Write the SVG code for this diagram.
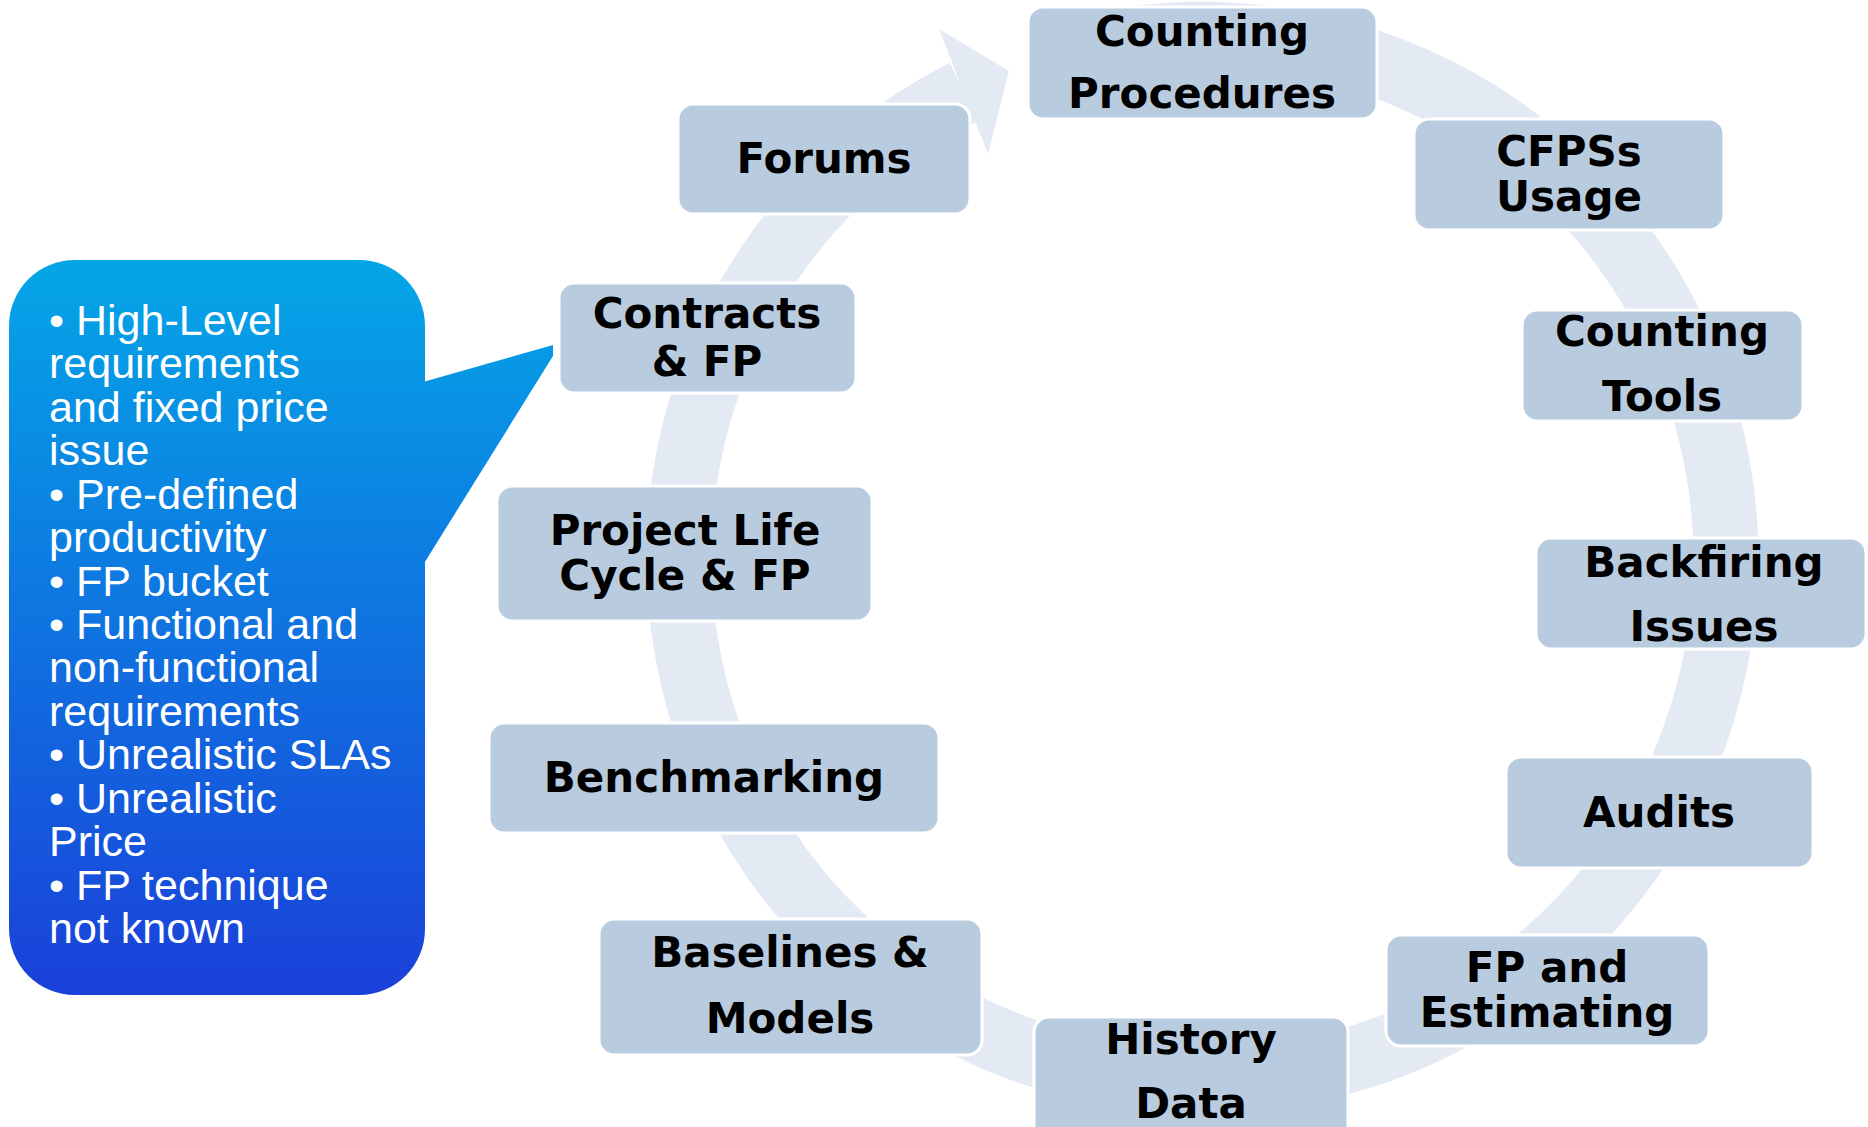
<svg xmlns="http://www.w3.org/2000/svg" width="1868" height="1127" viewBox="0 0 1868 1127">
<defs>
<style>
.band{fill:none;stroke:#E3EAF3;stroke-width:65}
.head{fill:#E3EAF3}
.node rect{fill:#B9CCDF;stroke:#FFFFFF;stroke-width:3}
.node text{font-family:"DejaVu Sans",Verdana,sans-serif;font-weight:bold;font-size:42px;fill:#000;text-anchor:middle}
.note text{font-family:"Liberation Sans",Arial,sans-serif;font-size:43px;fill:#FFFFFF}
</style>
<linearGradient id="blueGrad" gradientUnits="userSpaceOnUse" x1="0" y1="260" x2="0" y2="995">
<stop offset="0" stop-color="#04A6E7"/>
<stop offset="1" stop-color="#1A40D9"/>
</linearGradient>
</defs>
<rect width="1868" height="1127" fill="#FFFFFF"/>
<g id="connectors">
<path class="band" d="M 1066.5 52.3 A 523.5 523.5 0 1 1 964.3 91.6"/>
<polygon class="head" points="939,29 1009,71 988,154 962,88"/>
</g>
<g id="callout" class="note">
<rect x="9" y="260" width="416" height="735" rx="66" ry="66" fill="url(#blueGrad)"/>
<polygon points="423,382 553,345 553,356 423,565" fill="url(#blueGrad)"/>
<text>
<tspan x="49" y="335">• High-Level</tspan>
<tspan x="49" y="378.4">requirements</tspan>
<tspan x="49" y="421.9">and fixed price</tspan>
<tspan x="49" y="465.3">issue</tspan>
<tspan x="49" y="508.7">• Pre-defined</tspan>
<tspan x="49" y="552.2">productivity</tspan>
<tspan x="49" y="595.6">• FP bucket</tspan>
<tspan x="49" y="639">• Functional and</tspan>
<tspan x="49" y="682.4">non-functional</tspan>
<tspan x="49" y="725.9">requirements</tspan>
<tspan x="49" y="769.3">• Unrealistic SLAs</tspan>
<tspan x="49" y="812.7">• Unrealistic</tspan>
<tspan x="49" y="856.2">Price</tspan>
<tspan x="49" y="899.6">• FP technique</tspan>
<tspan x="49" y="943">not known</tspan>
</text>
</g>
<g id="n-counting-procedures" class="node">
<rect x="1028" y="7" width="349" height="112" rx="15"/>
<text x="1202" y="46">Counting</text>
<text x="1202" y="108">Procedures</text>
</g>
<g id="n-cfpss-usage" class="node">
<rect x="1414" y="119" width="310" height="111" rx="15"/>
<text x="1569" y="166">CFPSs</text>
<text x="1569" y="211">Usage</text>
</g>
<g id="n-counting-tools" class="node">
<rect x="1522" y="310" width="281" height="111" rx="15"/>
<text x="1662" y="346">Counting</text>
<text x="1662" y="411">Tools</text>
</g>
<g id="n-backfiring-issues" class="node">
<rect x="1536" y="538" width="330" height="111" rx="15"/>
<text x="1704" y="577">Backfiring</text>
<text x="1704" y="641">Issues</text>
</g>
<g id="n-audits" class="node">
<rect x="1506" y="757" width="307" height="111" rx="15"/>
<text x="1659" y="827">Audits</text>
</g>
<g id="n-fp-estimating" class="node">
<rect x="1386" y="935" width="323" height="111" rx="15"/>
<text x="1547" y="982">FP and</text>
<text x="1547" y="1027">Estimating</text>
</g>
<g id="n-history-data" class="node">
<rect x="1034" y="1017" width="314" height="125" rx="15"/>
<text x="1191" y="1054">History</text>
<text x="1191" y="1118">Data</text>
</g>
<g id="n-baselines-models" class="node">
<rect x="599" y="919" width="383" height="136" rx="15"/>
<text x="790" y="967">Baselines &amp;</text>
<text x="790" y="1033">Models</text>
</g>
<g id="n-benchmarking" class="node">
<rect x="489" y="723" width="450" height="110" rx="15"/>
<text x="714" y="792">Benchmarking</text>
</g>
<g id="n-project-life-cycle" class="node">
<rect x="497" y="486" width="375" height="135" rx="15"/>
<text x="685" y="545">Project Life</text>
<text x="685" y="590">Cycle &amp; FP</text>
</g>
<g id="n-contracts-fp" class="node">
<rect x="559" y="283" width="297" height="110" rx="15"/>
<text x="707" y="328">Contracts</text>
<text x="707" y="376">&amp; FP</text>
</g>
<g id="n-forums" class="node">
<rect x="678" y="104" width="292" height="110" rx="15"/>
<text x="824" y="173">Forums</text>
</g>
</svg>
